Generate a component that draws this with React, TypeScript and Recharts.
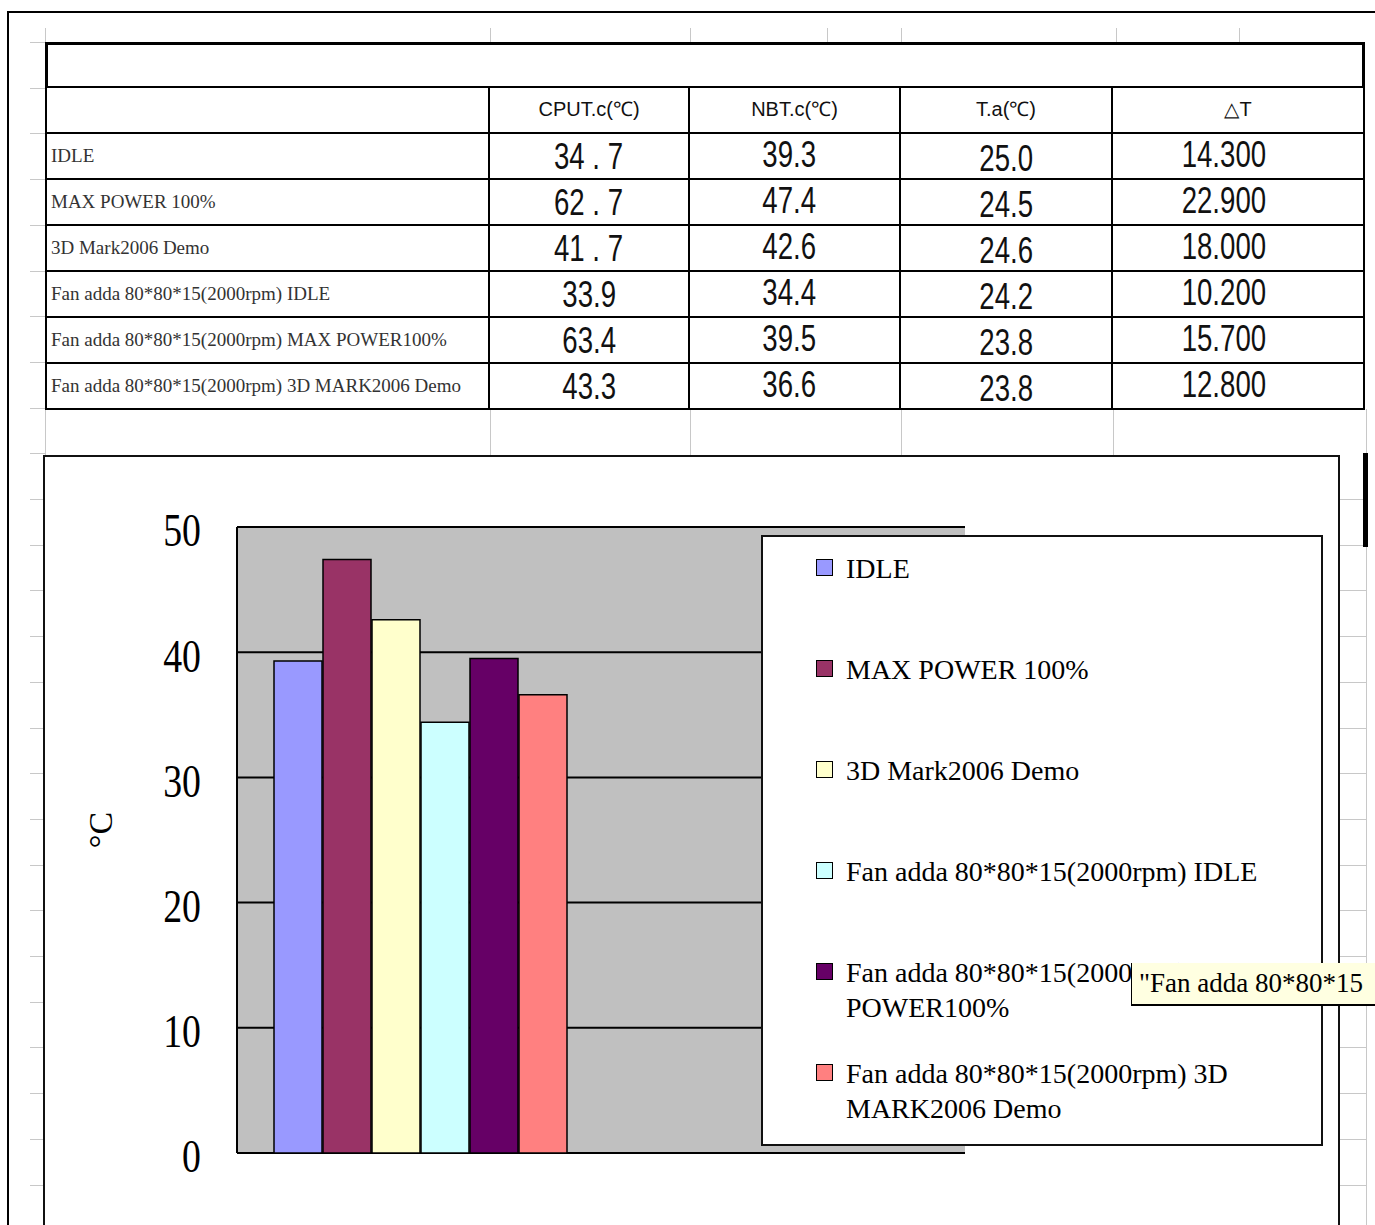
import React from "react";
import {
  BarChart,
  Bar,
  XAxis,
  YAxis,
  CartesianGrid,
  Legend,
} from "recharts";

// table data (read from the sheet)
const rowLabels = [
  "IDLE",
  "MAX POWER 100%",
  "3D Mark2006 Demo",
  "Fan adda 80*80*15(2000rpm) IDLE",
  "Fan adda 80*80*15(2000rpm) MAX POWER100%",
  "Fan adda 80*80*15(2000rpm) 3D MARK2006 Demo",
];
const columnHeaders = ["CPUT.c(℃)", "NBT.c(℃)", "T.a(℃)", "△T"];
const cpuTemps = [34.7, 62.7, 41.7, 33.9, 63.4, 43.3];
const nbTemps = [39.3, 47.4, 42.6, 34.4, 39.5, 36.6];
const ambientTemps = [25.0, 24.5, 24.6, 24.2, 23.8, 23.8];
const deltaT = [14.3, 22.9, 18.0, 10.2, 15.7, 12.8];

// chart
const categories = ["NBT.c", ""];
const seriesNames = [
  "IDLE",
  "MAX POWER 100%",
  "3D Mark2006 Demo",
  "Fan adda 80*80*15(2000rpm) IDLE",
  "Fan adda 80*80*15(2000rpm) MAX POWER100%",
  "Fan adda 80*80*15(2000rpm) 3D MARK2006 Demo",
];
const seriesColors = ["#9999FF", "#993366", "#FFFFCC", "#CCFFFF", "#660066", "#FF8080"];
const yTicks = [0, 10, 20, 30, 40, 50];

const chartData = categories.map((category, ci) => {
  const row: Record<string, string | number | null> = { category };
  seriesNames.forEach((_, i) => {
    row["s" + i] = ci === 0 ? nbTemps[i] : null;
  });
  return row;
});

const serif = "'Liberation Serif', 'Times New Roman', serif";
const sans = "'Liberation Sans', Arial, sans-serif";
const sheetGrey = "#c8c8c8";

const colWidths = [445, 200, 211, 212, 252];
const rowH = 46;

function fmtCpu(v: number, i: number) {
  const s = v.toFixed(1);
  return i < 3 ? s.replace(".", " . ") : s;
}

function AxisTick(props: any) {
  const { x, y, payload } = props;
  return (
    <text
      transform={`translate(${x},${y + 3.5}) scale(1.05,1.3)`}
      textAnchor="end"
      dominantBaseline="central"
      fontFamily={serif}
      fontSize={36}
      fill="#000"
    >
      {payload.value}
    </text>
  );
}

function AxisTitle(props: any) {
  const { x, y, height } = props.viewBox;
  return (
    <text
      transform={`translate(${x + 13},${y + height / 2 - 10}) rotate(-90)`}
      textAnchor="middle"
      dominantBaseline="central"
      fontFamily={serif}
      fontSize={34}
      fill="#000"
    >
      °C
    </text>
  );
}

function LegendBox(props: any) {
  // keep the series order (recharts sorts payload by name)
  const items = seriesNames.map((n, i) => {
    const p = (props.payload || []).find((q: any) => q.value === n);
    return { name: n, color: p ? p.color : seriesColors[i] };
  });
  return (
    <div
      style={{
        position: "relative",
        width: 562,
        height: 611,
        boxSizing: "border-box",
        border: "2px solid #111",
        background: "#fff",
      }}
    >
      {items.map((it, i) => {
        const mid = 31 + 101 * i;
        return (
          <div key={it.name}>
            <div
              style={{
                position: "absolute",
                left: 53,
                top: mid - 9,
                width: 15,
                height: 15,
                background: it.color,
                border: "1.5px solid #000",
              }}
            />
            <div
              style={{
                position: "absolute",
                left: 83,
                top: mid - 17.5,
                width: 440,
                fontFamily: serif,
                fontSize: 28,
                lineHeight: "35px",
                color: "#000",
              }}
            >
              {it.name}
            </div>
          </div>
        );
      })}
    </div>
  );
}

function Cell({ children, w, style }: any) {
  return (
    <div
      style={{
        width: w,
        height: rowH,
        boxSizing: "border-box",
        borderRight: "2px solid #000",
        borderBottom: "2px solid #000",
        display: "flex",
        alignItems: "center",
        justifyContent: "center",
        whiteSpace: "nowrap",
        ...style,
      }}
    >
      {children}
    </div>
  );
}

// narrow tall digits like the sheet's font
function Num({ children }: any) {
  return (
    <span
      style={{
        display: "inline-block",
        fontFamily: sans,
        fontSize: 30,
        lineHeight: "30px",
        color: "#111",
        transform: "scale(0.92,1.25)",
      }}
    >
      {children}
    </span>
  );
}

export default function App() {
  const leftTicks = Array.from({ length: 26 }, (_, k) => 42 + k * 45.7);
  const topTicks = [45, 490, 690, 827, 901, 1116, 1239];
  const belowTable = [45, 490, 690, 901, 1113];

  return (
    <div
      style={{
        position: "absolute",
        left: 0,
        top: 0,
        width: 1375,
        height: 1225,
        overflow: "hidden",
        background: "#fff",
      }}
    >
      {/* window frame */}
      <div
        style={{
          position: "absolute",
          left: 7,
          top: 11,
          width: 2000,
          height: 2000,
          borderTop: "2px solid #000",
          borderLeft: "2px solid #000",
        }}
      />

      {/* sheet gridline stubs */}
      {topTicks.map((x) => (
        <div key={"t" + x} style={{ position: "absolute", left: x, top: 28, width: 1, height: 14, background: sheetGrey }} />
      ))}
      {leftTicks.map((y) => (
        <div key={"l" + y} style={{ position: "absolute", left: 30, top: y, width: 15, height: 1, background: sheetGrey }} />
      ))}
      {belowTable.map((x) => (
        <div key={"b" + x} style={{ position: "absolute", left: x, top: 409, width: 1, height: 46, background: sheetGrey }} />
      ))}
      {leftTicks
        .filter((y) => y > 480)
        .map((y) => (
          <div key={"r" + y} style={{ position: "absolute", left: 1340, top: y, width: 26, height: 1, background: sheetGrey }} />
        ))}
      <div style={{ position: "absolute", left: 1366, top: 409, width: 1, height: 820, background: sheetGrey }} />
      <div style={{ position: "absolute", left: 1363, top: 453, width: 5, height: 94, background: "#000" }} />

      {/* table */}
      <div style={{ position: "absolute", left: 45, top: 42, width: 1320 }}>
        <div
          style={{
            height: rowH,
            boxSizing: "border-box",
            border: "3px solid #000",
            borderBottomWidth: 2,
          }}
        />
        <div style={{ display: "flex", borderLeft: "2px solid #000", boxSizing: "border-box" }}>
          <Cell w={colWidths[0] - 2} />
          {columnHeaders.map((h, i) => (
            <Cell key={h} w={colWidths[i + 1]} style={{ fontFamily: sans, fontSize: 20, color: "#111", paddingBottom: 3 }}>
              {h}
            </Cell>
          ))}
        </div>
        {rowLabels.map((label, r) => (
          <div key={label} style={{ display: "flex", borderLeft: "2px solid #000", boxSizing: "border-box" }}>
            <Cell
              w={colWidths[0] - 2}
              style={{ justifyContent: "flex-start", paddingLeft: 4, fontFamily: serif, fontSize: 19, color: "#333" }}
            >
              {label}
            </Cell>
            <Cell w={colWidths[1]}>
              <Num>{fmtCpu(cpuTemps[r], r)}</Num>
            </Cell>
            <Cell w={colWidths[2]} style={{ paddingBottom: 4, paddingRight: 10 }}>
              <Num>{nbTemps[r].toFixed(1)}</Num>
            </Cell>
            <Cell w={colWidths[3]} style={{ paddingTop: 4 }}>
              <Num>{ambientTemps[r].toFixed(1)}</Num>
            </Cell>
            <Cell w={colWidths[4]} style={{ paddingBottom: 4, paddingRight: 28 }}>
              <Num>{deltaT[r].toFixed(3)}</Num>
            </Cell>
          </div>
        ))}
      </div>

      {/* chart object */}
      <div
        style={{
          position: "absolute",
          left: 43,
          top: 455,
          width: 1297,
          height: 800,
          boxSizing: "border-box",
          border: "2px solid #111",
          background: "#fff",
        }}
      >
        <BarChart
          width={1293}
          height={766}
          data={chartData}
          margin={{ top: 70, right: 373, bottom: 70, left: 42 }}
          barCategoryGap={37}
          barGap={1}
        >
          <CartesianGrid vertical={false} stroke="#000" strokeWidth={2} fill="#C0C0C0" fillOpacity={1} />
          <XAxis dataKey="category" hide />
          <YAxis
            width={150}
            domain={[0, 50]}
            ticks={yTicks}
            interval={0}
            axisLine={{ stroke: "#000", strokeWidth: 2 }}
            tickLine={false}
            tickSize={0}
            tickMargin={36}
            tick={<AxisTick />}
            label={{ content: <AxisTitle /> }}
          />
          {seriesNames.map((name, i) => (
            <Bar
              key={name}
              dataKey={"s" + i}
              name={name}
              fill={seriesColors[i]}
              stroke="#000"
              strokeWidth={1.5}
              isAnimationActive={false}
            />
          ))}
          <Legend
            layout="vertical"
            align="center"
            verticalAlign="middle"
            content={<LegendBox />}
            wrapperStyle={{ left: 716, top: 78, width: 562, height: 611 }}
          />
        </BarChart>
      </div>

      {/* hover tip left on screen */}
      <div
        style={{
          position: "absolute",
          left: 1131,
          top: 963,
          width: 260,
          height: 43,
          boxSizing: "border-box",
          background: "#FFFFE1",
          borderLeft: "1px solid #000",
          borderBottom: "2px solid #000",
          fontFamily: serif,
          fontSize: 27,
          lineHeight: "40px",
          paddingLeft: 7,
          whiteSpace: "nowrap",
          overflow: "hidden",
          color: "#000",
        }}
      >
        "Fan adda 80*80*15
      </div>
    </div>
  );
}
